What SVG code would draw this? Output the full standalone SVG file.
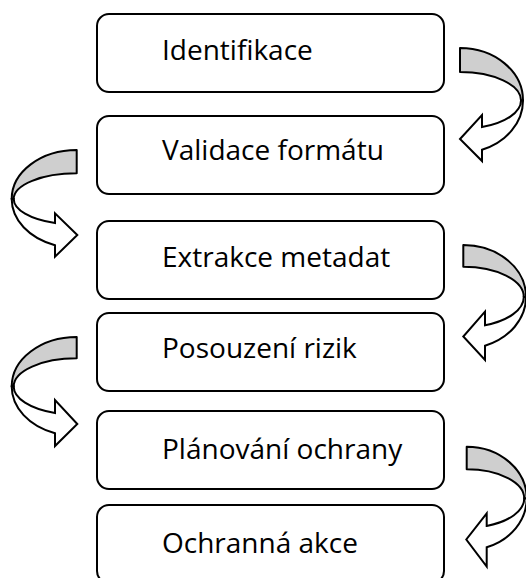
<svg xmlns="http://www.w3.org/2000/svg" width="526" height="578" viewBox="0 0 526 578">
<style>
.box{fill:#fff;stroke:#000;stroke-width:2}
.lbl{font-family:"Open Sans","Noto Sans","Liberation Sans",sans-serif;font-size:28px;fill:#000}
.back{fill:#cfcfcf;stroke:#000;stroke-width:2;stroke-linejoin:round}
.front{fill:#fff;stroke:#000;stroke-width:2;stroke-linejoin:miter}
</style>
<rect width="526" height="578" fill="#fff"/>
<g id="connectors">
<g id="arrow1">
<path class="back" d="M460,48 A63,52.5 0 0 1 523,100.5 L521,100.5 A61,28.5 0 0 0 460,72 Z"/>
<path class="front" d="M523,100.5 A63,52.5 0 0 1 482,149.7 L482,161 L460,139 L482,115 L482,127.1 A61,28.5 0 0 0 521,100.5 Z"/>
</g>
<g id="arrow2">
<path class="back" d="M76.7,150 A65,49 0 0 0 11.7,199 L13.7,199 A63,25.7 0 0 1 76.7,173.3 Z"/>
<path class="front" d="M11.7,199 A65,49 0 0 0 55,245.2 L55,256.7 L77.3,235 L55,213.3 L55,223.1 A63,25.7 0 0 1 13.7,199 Z"/>
</g>
<g id="arrow3">
<path class="back" d="M463.3,245 A62.7,52 0 0 1 526,297 L523.8,297 A60.5,30.3 0 0 0 463.3,266.7 Z"/>
<path class="front" d="M526,297 A62.7,52 0 0 1 485,345.8 L485,360 L463.3,336.5 L485,311.7 L485,325.3 A60.5,30.3 0 0 0 523.8,297 Z"/>
</g>
<g id="arrow4">
<path class="back" d="M76.7,337 A65,49.5 0 0 0 11.7,386.5 L13.7,386.5 A63,28.2 0 0 1 76.7,358.3 Z"/>
<path class="front" d="M11.7,386.5 A65,49.5 0 0 0 55,433.2 L55,446 L77.3,424 L55,400 L55,413 A63,28.2 0 0 1 13.7,386.5 Z"/>
</g>
<g id="arrow5">
<path class="back" d="M466.7,446.7 A60,51.8 0 0 1 526.7,498.5 L524.2,498.5 A57.5,29.2 0 0 0 466.7,469.3 Z"/>
<path class="front" d="M526.7,498.5 A60,51.8 0 0 1 486.7,547.3 L486.7,566.5 L466.3,539.5 L486.7,513.3 L486.7,525.9 A57.5,29.2 0 0 0 524.2,498.5 Z"/>
</g>
</g>
<g id="n1"><rect class="box" x="97" y="14" width="347" height="78" rx="12"/><text class="lbl" x="162" y="60">Identifikace</text></g>
<g id="n2"><rect class="box" x="97" y="116" width="347" height="78" rx="12"/><text class="lbl" x="162" y="160">Validace formátu</text></g>
<g id="n3"><rect class="box" x="97" y="221" width="347" height="78" rx="12"/><text class="lbl" x="162" y="267">Extrakce metadat</text></g>
<g id="n4"><rect class="box" x="97" y="313" width="347" height="78" rx="12"/><text class="lbl" x="162" y="358">Posouzení rizik</text></g>
<g id="n5"><rect class="box" x="97" y="411" width="347" height="78" rx="12"/><text class="lbl" x="162" y="459">Plánování ochrany</text></g>
<g id="n6"><rect class="box" x="97" y="505" width="347" height="78" rx="12"/><text class="lbl" x="162" y="553">Ochranná akce</text></g>
</svg>
